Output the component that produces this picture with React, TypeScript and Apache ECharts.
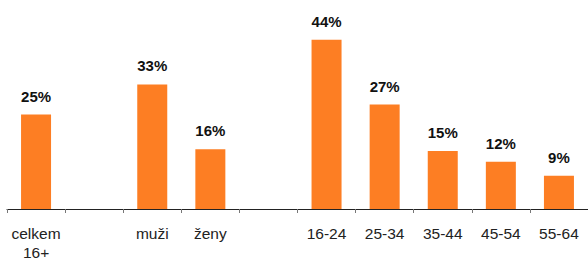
import React, { useEffect, useRef } from "react";
import * as echarts from "echarts";

const categories = ["celkem\n16+", "", "muži", "ženy", "", "16-24", "25-34", "35-44", "45-54", "55-64"];
const values: (number | null)[] = [24.8, null, 32.7, 15.7, null, 44.4, 27.4, 15.2, 12.4, 8.7];

export default function App() {
  const ref = useRef<HTMLDivElement>(null);
  useEffect(() => {
    if (!ref.current) return;
    const chart = echarts.init(ref.current, undefined, { renderer: "svg" });
    chart.setOption({
      animation: false,
      grid: { left: 7, right: 0, top: 18.5, bottom: 51 },
      xAxis: {
        type: "category",
        data: categories,
        boundaryGap: true,
        axisLine: { lineStyle: { color: "#222", width: 1 } },
        axisTick: { show: true, length: 4, lineStyle: { color: "#777" } },
        axisLabel: {
          interval: 0,
          margin: 15,
          fontFamily: "Liberation Sans, Arial, sans-serif",
          fontSize: 15.5,
          color: "#222",
          lineHeight: 19,
        },
      },
      yAxis: { type: "value", min: 0, max: 50, show: false, splitLine: { show: false } },
      series: [
        {
          type: "bar",
          data: values,
          barWidth: 30,
          itemStyle: { color: "#FD7E23" },
          label: {
            show: true,
            position: "top",
            distance: 11,
            formatter: (p: any) => Math.round(p.value) + "%",
            fontFamily: "Liberation Sans, Arial, sans-serif",
            fontWeight: "bold",
            fontSize: 15,
            color: "#111",
          },
        },
      ],
    });
    return () => chart.dispose();
  }, []);
  return (
    <div
      ref={ref}
      style={{ position: "absolute", left: 0, top: 0, width: 588, height: 262 }}
    />
  );
}
